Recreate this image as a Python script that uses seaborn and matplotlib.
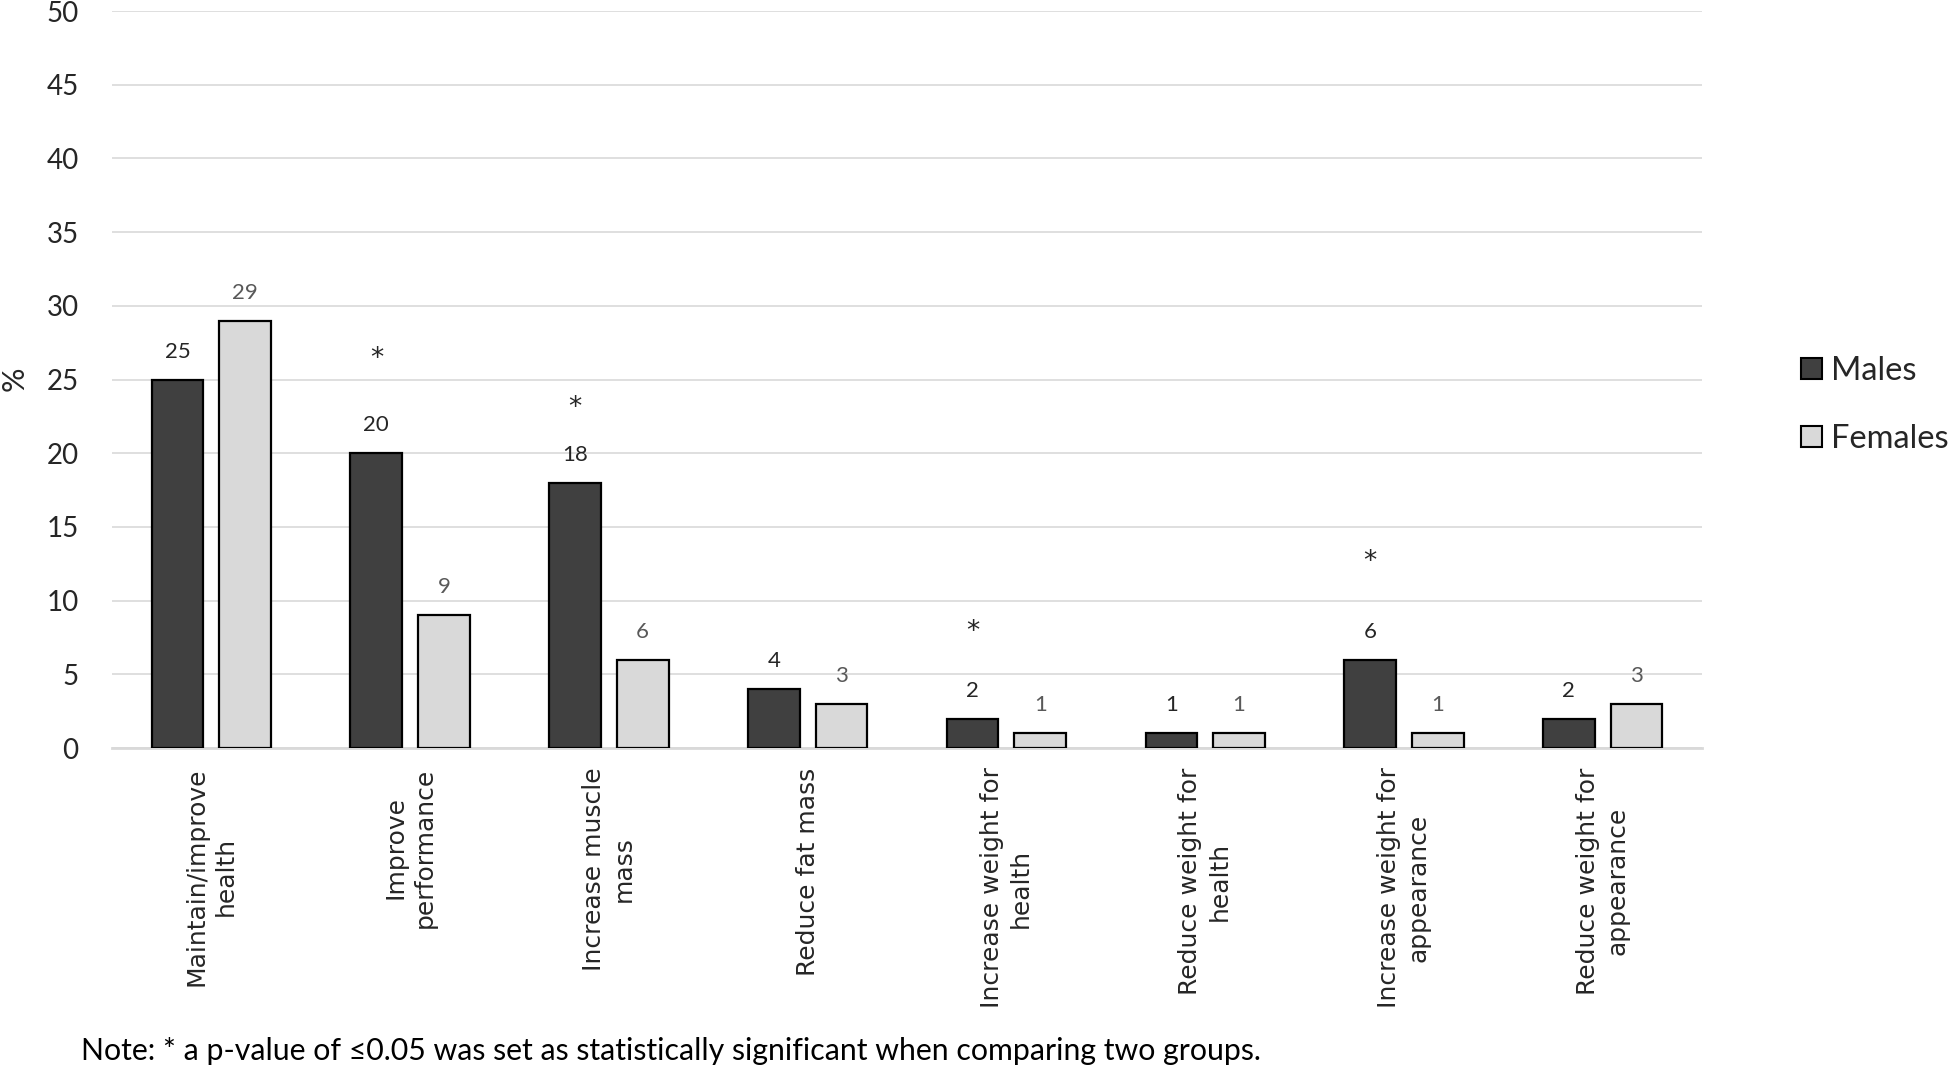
import matplotlib
matplotlib.use('Agg')
import matplotlib.pyplot as plt
import pandas as pd
import seaborn as sns
from matplotlib.patches import Patch

categories = ['Maintain/improve\nhealth', 'Improve\nperformance',
              'Increase muscle\nmass', 'Reduce fat mass',
              'Increase weight for\nhealth', 'Reduce weight for\nhealth',
              'Increase weight for\nappearance', 'Reduce weight for\nappearance']
males = [25, 20, 18, 4, 2, 1, 6, 2]
females = [29, 9, 6, 3, 1, 1, 1, 3]
# significance markers: category index and height where the star is drawn
star_idx = [1, 2, 4, 6]
star_y = [26.4, 23.1, 7.9, 12.6]
y_ticks = list(range(0, 51, 5))
note = ('Note: * a p-value of \u22640.05 was set as statistically significant '
        'when comparing two groups.')

df = pd.DataFrame({
    'cat': categories * 2,
    'value': males + females,
    'group': ['Males'] * len(males) + ['Females'] * len(females),
})

sns.set_style('white')
plt.rcParams['font.family'] = ['Lato', 'DejaVu Sans']

fig, ax = plt.subplots(figsize=(19.51, 10.68), dpi=100)
fig.subplots_adjust(left=0.0574, right=0.8724, top=0.9897, bottom=0.2996)

palette = {'Males': '#404040', 'Females': '#d9d9d9'}
sns.barplot(data=df, x='cat', y='value', hue='group', palette=palette,
            saturation=1, width=0.68, gap=0.235, edgecolor='black',
            linewidth=1.6, ax=ax, legend=False, zorder=3)

# value labels
for i, (m, f) in enumerate(zip(males, females)):
    ax.text(i - 0.17, m + 1.9, str(m), ha='center', va='center',
            fontsize=16, color='#262626')
    ax.text(i + 0.17, f + 1.9, str(f), ha='center', va='center',
            fontsize=16, color='#595959')
for i, y in zip(star_idx, star_y):
    ax.text(i - 0.17, y, '*', ha='center', va='center', fontsize=19,
            family='DejaVu Sans', color='#262626')

ax.set_ylim(0, 50)
ax.set_xlim(-0.5, len(categories) - 0.5)
ax.set_yticks(y_ticks)
ax.yaxis.grid(True, color='#d9d9d9', linewidth=1.2, zorder=0)
ax.set_axisbelow(True)
ax.tick_params(axis='y', length=0, pad=24, labelsize=20,
               labelcolor='#262626')
ax.tick_params(axis='x', length=0, pad=14)
ax.set_xticks(range(len(categories)))
ax.set_xticklabels(categories, rotation=90, ha='center', va='top',
                   multialignment='center', color='#262626')
for lab in ax.get_xticklabels():
    lab.set_fontfamily('DejaVu Sans')
    lab.set_fontsize(18)
    lab.set_linespacing(1.3)
for s in ['top', 'right', 'left']:
    ax.spines[s].set_visible(False)
ax.spines['bottom'].set_color('#d9d9d9')
ax.spines['bottom'].set_linewidth(2)
ax.set_xlabel('')
ax.set_ylabel('')

fig.text(15 / 1951, 1 - 379 / 1068, '%', rotation=90, ha='center',
         va='center', fontsize=22, color='#262626')

handles = [Patch(facecolor=palette[g], edgecolor='black', linewidth=1.5)
           for g in ['Males', 'Females']]
fig.legend(handles, ['Males', 'Females'], loc='center left',
           bbox_to_anchor=(1772 / 1951, 1 - 405 / 1068), frameon=False,
           fontsize=23.5, handlelength=0.63, handleheight=0.63,
           handletextpad=0.27, labelspacing=1.15, labelcolor='#262626')

fig.text(81 / 1951, 1 - 1051 / 1068, note, ha='left', va='center',
         fontsize=21.8, color='black')

plt.savefig('out.png', dpi=100)
plt.close()
